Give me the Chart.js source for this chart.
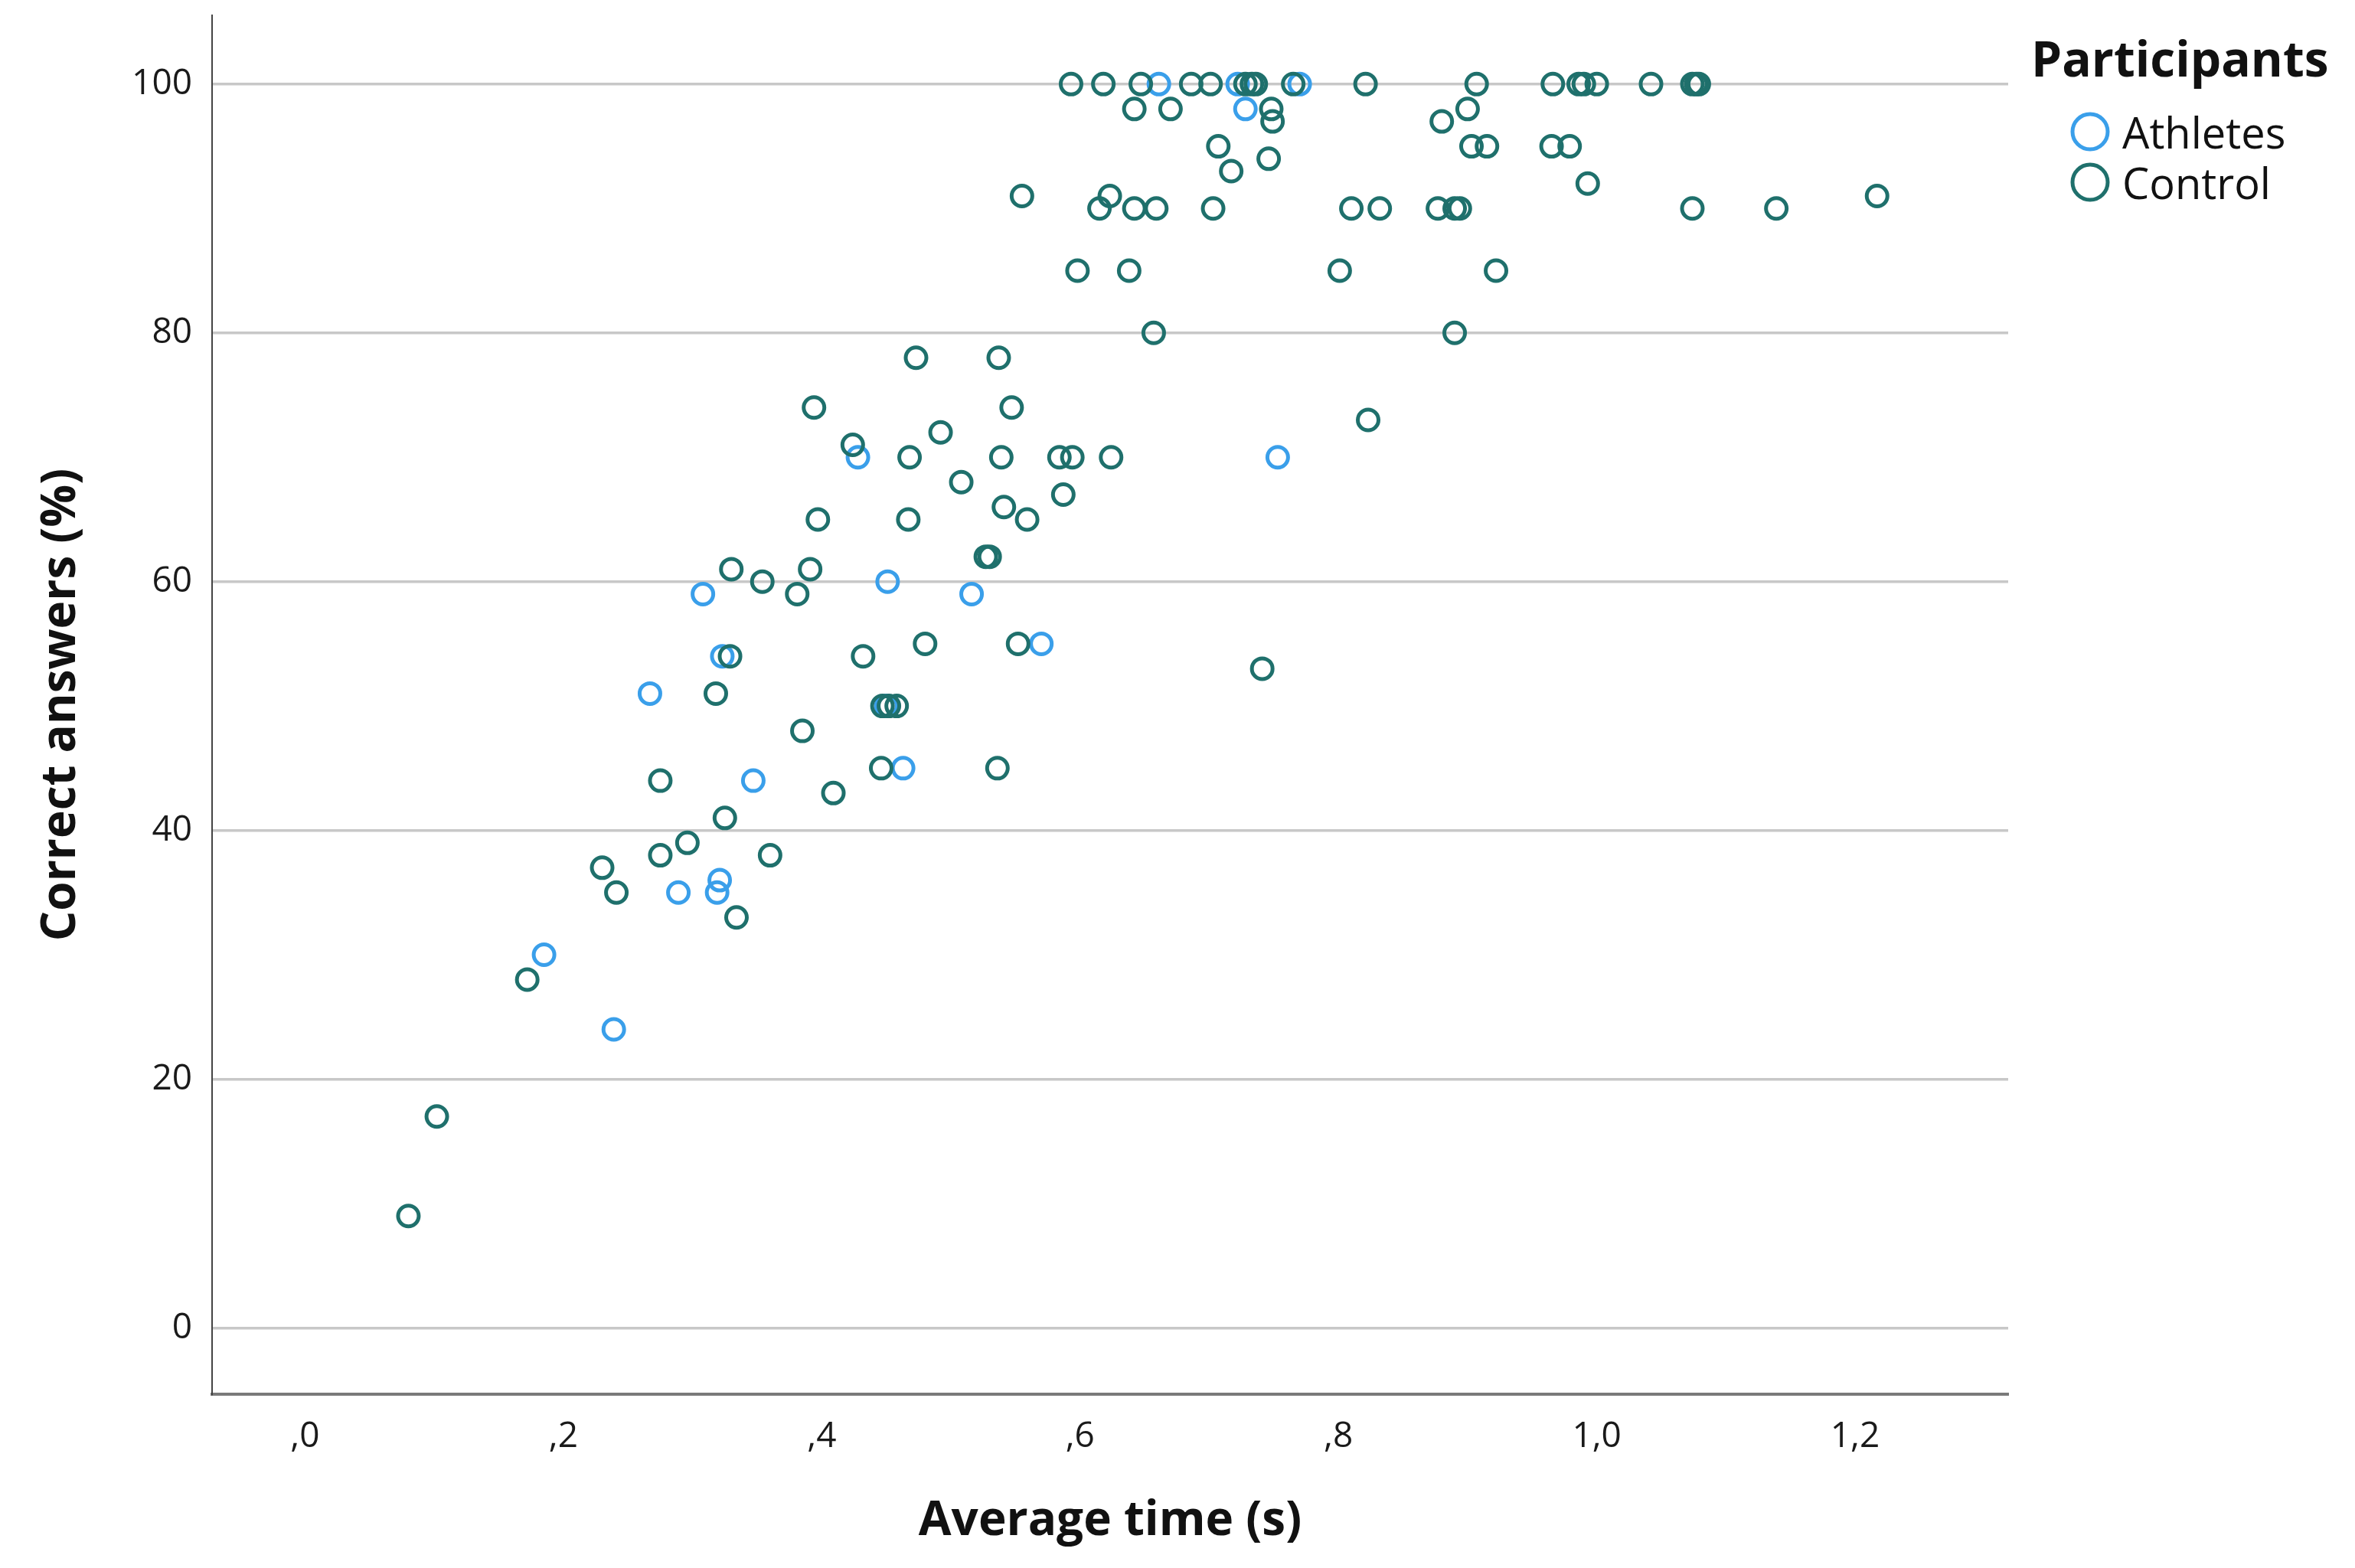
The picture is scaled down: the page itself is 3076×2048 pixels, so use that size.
<!DOCTYPE html>
<html>
<head>
<meta charset="utf-8">
<title>Correct answers vs average time</title>
<script src="https://cdn.jsdelivr.net/npm/chart.js@4.4.1/dist/chart.umd.min.js"></script>
<style>
  html, body { margin: 0; padding: 0; background: #fff; }
  #wrap { width: 3076px; height: 2048px; }
</style>
</head>
<body>
<div id="wrap"><canvas id="myChart" width="3076" height="2048"></canvas></div>
<script>
// axis ticks
const xTicks = [0, 0.2, 0.4, 0.6, 0.8, 1.0, 1.2];
const xTickLabels = [',0', ',2', ',4', ',6', ',8', '1,0', '1,2'];
const yTicks = [0, 20, 40, 60, 80, 100];
const yTickLabels = ['0', '20', '40', '60', '80', '100'];

const groups = ['Athletes', 'Control'];

// Athletes - average time (s) / correct answers (%)
const athletesTime = [0.661, 0.722, 0.770, 0.728, 0.428, 0.753, 0.451, 0.308, 0.516, 0.570,
                      0.323, 0.267, 0.463, 0.347, 0.321, 0.319, 0.289, 0.185, 0.239, 0.450];
const athletesCorrect = [100, 100, 100, 98, 70, 70, 60, 59, 59, 55,
                         54, 51, 45, 44, 36, 35, 35, 30, 24, 50];

// Control
const controlTime = [
  0.593, 0.618, 0.647, 0.686, 0.701, 0.728, 0.733, 0.736, 0.765, 0.821, 0.907, 0.966, 0.986, 0.990, 1.000, 1.042, 1.074, 1.077, 1.079,
  0.642, 0.670, 0.748, 0.900,
  0.749, 0.880,
  0.707, 0.903, 0.915, 0.965, 0.979,
  0.746, 0.717, 0.993,
  0.555, 0.623, 1.217,
  0.615, 0.642, 0.659, 0.703, 0.810, 0.832, 0.877, 0.890, 0.894, 1.074, 1.139,
  0.598, 0.638, 0.801, 0.922,
  0.657, 0.890,
  0.473, 0.537,
  0.394, 0.547,
  0.823, 0.492, 0.424,
  0.468, 0.539, 0.584, 0.594, 0.624,
  0.508, 0.587, 0.541,
  0.397, 0.467, 0.559,
  0.527, 0.530,
  0.330, 0.391,
  0.354, 0.381,
  0.480, 0.552,
  0.329, 0.432,
  0.741, 0.318,
  0.447, 0.452, 0.458,
  0.385,
  0.446, 0.536,
  0.275, 0.409, 0.325, 0.296,
  0.275, 0.360,
  0.230, 0.241, 0.334, 0.172, 0.102, 0.080
];
const controlCorrect = [
  100, 100, 100, 100, 100, 100, 100, 100, 100, 100, 100, 100, 100, 100, 100, 100, 100, 100, 100,
  98, 98, 98, 98,
  97, 97,
  95, 95, 95, 95, 95,
  94, 93, 92,
  91, 91, 91,
  90, 90, 90, 90, 90, 90, 90, 90, 90, 90, 90,
  85, 85, 85, 85,
  80, 80,
  78, 78,
  74, 74,
  73, 72, 71,
  70, 70, 70, 70, 70,
  68, 67, 66,
  65, 65, 65,
  62, 62,
  61, 61,
  60, 59,
  55, 55,
  54, 54,
  53, 51,
  50, 50, 50,
  48,
  45, 45,
  44, 43, 41, 39,
  38, 38,
  37, 35, 33, 28, 17, 9
];

const colors = ['#3a9fea', '#1f706c'];

function toPoints(xs, ys) {
    return xs.map((x, i) => ({ x: x, y: ys[i] }));
}

const fontFam = '"Open Sans", "DejaVu Sans", sans-serif';

// legend drawn by hand to sit where SPSS puts it
const spssLegend = {
    id: 'spssLegend',
    afterDraw(chart) {
        const c = chart.ctx;
        c.save();
        c.fillStyle = '#111';
        c.textAlign = 'left';
        c.textBaseline = 'alphabetic';
        c.font = 'bold 64px ' + fontFam;
        c.fillText('Participants', 2653, 100);
        c.font = '56px ' + fontFam;
        groups.forEach((g, i) => {
            const cy = 172 + i * 66;
            c.beginPath();
            c.arc(2730, cy, 23, 0, Math.PI * 2);
            c.lineWidth = 5;
            c.strokeStyle = colors[i];
            c.stroke();
            c.fillStyle = '#111';
            c.fillText(g, 2772, cy + 22);
        });
        c.restore();
    }
};

const data = {
    datasets: [{
        label: groups[0],
        data: toPoints(athletesTime, athletesCorrect),
        borderColor: colors[0],
        backgroundColor: 'rgba(0,0,0,0)',
        order: 1
    }, {
        label: groups[1],
        data: toPoints(controlTime, controlCorrect),
        borderColor: colors[1],
        backgroundColor: 'rgba(0,0,0,0)',
        order: 0
    }]
};

const options = {
    responsive: false,
    animation: false,
    devicePixelRatio: 1,
    layout: { padding: { left: 0, right: 453, top: 20, bottom: 0 } },
    elements: {
        point: { radius: 13.5, borderWidth: 5, hoverRadius: 13.5, pointStyle: 'circle' }
    },
    plugins: {
        legend: { display: false },
        tooltip: { enabled: false }
    },
    scales: {
        x: {
            type: 'linear',
            min: -0.072,
            max: 1.3185,
            afterBuildTicks: (scale) => { scale.ticks = xTicks.map(v => ({ value: v })); },
            afterFit: (scale) => {
                scale.height = 227;
                scale.paddingLeft = 0;
                scale.paddingRight = 0;
            },
            grid: { display: false, drawTicks: false },
            border: { display: true, color: '#7a7a7a', width: 4 },
            ticks: {
                padding: 28,
                color: '#1a1a1a',
                font: { family: fontFam, size: 46 },
                maxRotation: 0,
                callback: (v, i) => xTickLabels[i]
            },
            title: {
                display: true,
                text: 'Average time (s)',
                color: '#111',
                font: { family: fontFam, size: 62, weight: 'bold' },
                padding: { top: 0, bottom: 23 }
            }
        },
        y: {
            type: 'linear',
            min: -5.33,
            max: 105.53,
            afterBuildTicks: (scale) => { scale.ticks = yTicks.map(v => ({ value: v })); },
            afterFit: (scale) => {
                scale.width = 277;
                scale.paddingTop = 0;
                scale.paddingBottom = 0;
            },
            grid: { color: '#c8c8c8', lineWidth: 3.5, drawTicks: false },
            border: { display: true, color: '#444', width: 2 },
            ticks: {
                padding: 26,
                color: '#1a1a1a',
                font: { family: fontFam, size: 46 },
                callback: (v, i) => yTickLabels[i]
            },
            title: {
                display: true,
                text: 'Correct answers (%)',
                color: '#111',
                font: { family: fontFam, size: 62, weight: 'bold' },
                padding: { top: 43, bottom: 0 }
            }
        }
    }
};

const config = {
    type: 'scatter',
    data,
    options,
    plugins: [spssLegend]
};

const ctx = document.getElementById('myChart').getContext('2d');
const myChart = new Chart(ctx, config);
</script>
</body>
</html>
